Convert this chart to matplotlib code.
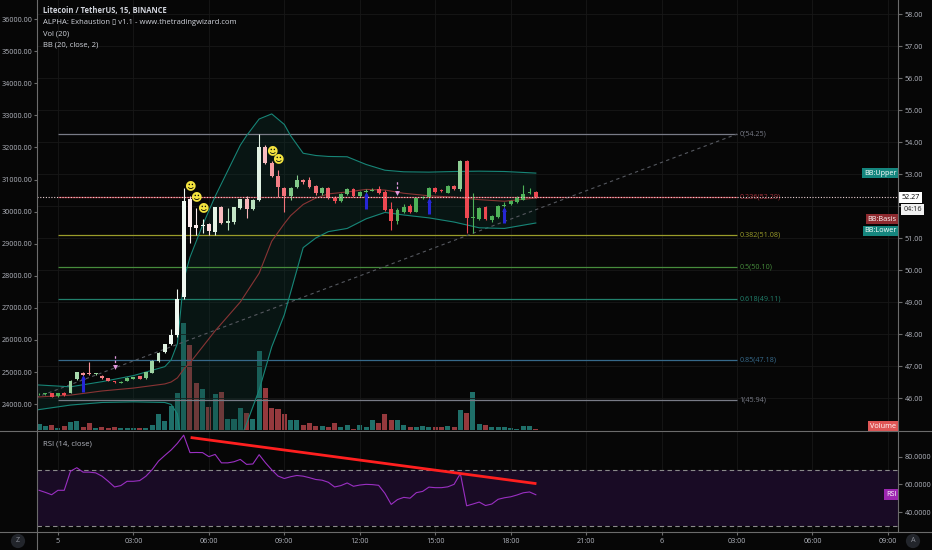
import numpy as np
import matplotlib
matplotlib.use("Agg")
import matplotlib.pyplot as plt
from matplotlib.colors import to_rgb
from matplotlib.lines import Line2D

plt.rcParams['font.family'] = ['Open Sans', 'DejaVu Sans']

# 15 minute bars, index 3 = 00:00 on the 5th
opens = [46.11, 46.12, 46.15, 46.05, 46.17, 46.17, 46.59, 46.77, 46.79, 46.75,
         46.69, 46.61, 46.51, 46.48, 46.54, 46.60, 46.68, 46.61, 46.79, 47.16,
         47.45, 47.68, 47.97, 49.17, 52.21, 51.40, 51.38, 51.44, 51.20, 51.96,
         51.47, 51.50, 51.93, 52.21, 51.90, 52.19, 53.85, 53.35, 52.94, 52.57,
         52.31, 52.60, 52.80, 52.80, 52.62, 52.40, 52.55, 52.26, 52.16, 52.37,
         52.52, 52.31, 52.45, 52.48, 52.52, 52.45, 51.90, 51.53, 51.82, 52.00,
         51.82, 52.26, 52.27, 52.55, 52.49, 52.42, 52.62, 52.52, 53.42, 51.62,
         51.60, 51.97, 51.56, 51.67, 52.00, 52.06, 52.12, 52.20, 52.40, 52.44]
highs = [46.16, 46.16, 46.17, 46.17, 46.20, 46.56, 46.82, 46.82, 47.13, 46.79,
         46.72, 46.63, 46.53, 46.52, 46.65, 46.67, 46.70, 46.82, 47.19, 47.44,
         47.70, 48.15, 49.40, 52.55, 52.30, 51.95, 51.60, 51.46, 51.98, 52.00,
         51.95, 51.98, 52.22, 52.31, 52.22, 54.25, 53.90, 53.40, 53.13, 52.60,
         52.60, 52.97, 52.85, 52.90, 52.65, 52.58, 52.60, 52.30, 52.42, 52.55,
         52.56, 52.48, 52.52, 52.55, 52.62, 52.50, 52.13, 51.95, 52.05, 52.05,
         52.26, 52.32, 52.58, 52.60, 52.52, 52.65, 52.66, 53.45, 53.45, 52.41,
         51.98, 52.00, 51.72, 52.02, 52.12, 52.20, 52.30, 52.66, 52.56, 52.48]
lows = [46.08, 46.09, 46.02, 46.03, 46.07, 46.15, 46.55, 46.70, 46.72, 46.73,
        46.60, 46.52, 46.47, 46.46, 46.52, 46.58, 46.58, 46.59, 46.77, 47.12,
        47.42, 47.65, 47.90, 49.10, 50.84, 51.09, 51.15, 51.10, 51.10, 51.45,
        51.25, 51.45, 51.90, 51.62, 51.88, 52.15, 53.30, 52.90, 52.29, 51.82,
        52.20, 52.55, 52.70, 52.55, 52.35, 52.35, 52.22, 52.10, 52.12, 52.35,
        52.28, 52.28, 52.42, 52.46, 52.38, 51.85, 51.25, 51.45, 51.78, 51.78,
        51.80, 52.22, 52.25, 52.42, 52.44, 52.40, 52.50, 52.48, 51.16, 51.16,
        51.55, 51.55, 51.50, 51.62, 51.96, 52.03, 52.10, 52.18, 52.38, 52.25]
closes = [46.12, 46.12, 46.04, 46.15, 46.09, 46.54, 46.80, 46.73, 46.74, 46.77,
          46.61, 46.54, 46.49, 46.50, 46.63, 46.65, 46.60, 46.80, 47.17, 47.42,
          47.68, 47.97, 49.11, 52.16, 51.35, 51.30, 51.42, 51.22, 51.96, 51.47,
          51.53, 51.96, 52.21, 51.90, 52.20, 53.83, 53.33, 52.94, 52.60, 52.31,
          52.57, 52.81, 52.76, 52.60, 52.40, 52.55, 52.26, 52.15, 52.38, 52.53,
          52.31, 52.45, 52.48, 52.51, 52.40, 51.87, 51.53, 51.87, 51.98, 51.82,
          52.24, 52.29, 52.55, 52.45, 52.47, 52.62, 52.52, 53.42, 51.64, 51.67,
          51.95, 51.60, 51.70, 52.00, 52.04, 52.17, 52.26, 52.37, 52.44, 52.27]
volume = [5.7, 4, 5.3, 2, 4, 8.3, 9, 3.3, 6.7, 2,
          2.7, 1.7, 2.7, 2, 1.7, 1.7, 2, 1.7, 5.3, 15.7,
          9, 24, 37.3, 107.3, 85, 46.7, 41, 23, 36.5, 38.2,
          11, 11, 22, 17, 10.7, 78.7, 42, 22, 21, 16.5,
          9.7, 9.7, 5, 6.7, 4, 4.3, 2.7, 6.7, 3.3, 5,
          1, 5, 3.3, 10, 7.3, 16, 10, 10, 5, 3.3,
          3.3, 4, 2.7, 3.3, 2.7, 4, 3.3, 20, 17.3, 37.7,
          5.7, 5, 2.7, 3.3, 2.7, 2.3, 1.3, 4.3, 4, 1]
rsi = [55.7, 54.2, 52.5, 55.7, 55.7, 69.5, 72.0, 68.8, 68.8, 68.3,
       65.9, 62.2, 58.1, 59.1, 62.2, 62.2, 62.7, 65.9, 70.7, 76.8,
       80.9, 84.8, 89.6, 95.5, 82.9, 83.0, 82.9, 80.0, 81.6, 75.5,
       75.5, 76.3, 78.0, 74.4, 74.7, 81.4, 75.6, 70.5, 66.0, 64.2,
       65.5, 66.4, 65.9, 64.8, 63.5, 63.0, 61.5, 58.1, 59.1, 61.0,
       58.6, 59.5, 60.0, 59.8, 59.3, 53.5, 45.5, 49.0, 50.6, 50.0,
       54.0, 54.9, 58.0, 57.6, 57.6, 58.2, 60.0, 67.8, 44.5, 45.8,
       47.2, 44.7, 45.8, 49.2, 50.3, 51.0, 52.3, 53.9, 54.5, 52.5]

# bollinger bands (20, close, 2)
bb_idx = [-0.3, 5, 10, 15, 20, 21, 22, 23, 24, 26, 28, 30, 32, 33, 35,
          37, 39, 40, 42, 44, 46, 49, 52, 55, 58, 62, 66, 70, 74, 79]
bb_upper = [46.41, 46.35, 46.51, 46.70, 46.98, 47.19, 47.70, 49.69, 50.40, 51.40,
            52.30, 53.10, 53.90, 54.20, 54.72, 54.88, 54.55, 54.20, 53.65, 53.58,
            53.55, 53.54, 53.30, 53.12, 53.07, 53.06, 53.08, 53.09, 53.08, 53.03]
bb_basis = [46.03, 46.09, 46.22, 46.31, 46.44, 46.50, 46.63, 46.90, 47.10, 47.60,
            48.10, 48.55, 49.00, 49.30, 49.90, 50.90, 51.45, 51.70, 52.05, 52.25,
            52.38, 52.44, 52.52, 52.50, 52.40, 52.32, 52.28, 52.20, 52.15, 52.25]
bb_lower = [45.63, 45.78, 45.86, 45.88, 45.86, 45.80, 45.50, 44.10, 43.80, 43.80,
            43.90, 44.00, 44.70, 45.20, 46.25, 47.60, 48.60, 49.30, 50.70, 51.00,
            51.20, 51.30, 51.60, 51.80, 51.72, 51.63, 51.50, 51.32, 51.30, 51.47]

fib_ratios = ['0', '0.236', '0.382', '0.5', '0.618', '0.85', '1']
fib_prices = [54.25, 52.29, 51.08, 50.10, 49.11, 47.18, 45.94]
fib_start, fib_end = 3, 111
fib_trend_start = (-1.5, 45.94)

time_ticks = [3, 15, 27, 39, 51, 63, 75, 87, 99, 111, 123, 135]
time_labels = ['5', '03:00', '06:00', '09:00', '12:00', '15:00', '18:00',
               '21:00', '6', '03:00', '06:00', '09:00']
price_ticks = list(range(46, 59))
left_ticks = list(range(24000, 36001, 1000))
rsi_ticks = [40, 60, 80]

smiley_idx = [24, 25, 26, 37, 38]
up_arrow_idx = [7, 52, 62, 74]
down_arrow_idx = [12, 57]

rsi_trend_x = [24.1, 79.1]
rsi_trend_y = [93.8, 60.5]
last_price = 52.27
countdown = '04:16'

BG = '#060606'
GRID = '#171717'
AXC = '#6b6b6b'
TXT = '#b2b5be'
FS = 5.2
W, H = 932, 550


def px_box(x0, y0, x1, y1):
    return [x0 / W, 1 - y1 / H, (x1 - x0) / W, (y1 - y0) / H]


fig = plt.figure(figsize=(9.32, 5.5), dpi=100, facecolor=BG)
vax = fig.add_axes(px_box(37, 0, 898, 430))
ax = fig.add_axes(px_box(37, 0, 898, 430), sharex=vax)
rax = fig.add_axes(px_box(37, 431, 898, 532), sharex=vax)
vax.set_facecolor(BG)
ax.patch.set_visible(False)
rax.set_facecolor(BG)

idx = np.arange(len(closes))
o, h, l, c = (np.array(a) for a in (opens, highs, lows, closes))
up = c >= o

vax.set_xlim(-0.33, 136.6)
vax.set_ylim(0, 430)
vax.bar(idx, volume, width=0.8, color=np.where(up, '#1f6f69', '#95393d'), lw=0)
vax.set_yticks([])

ax.set_ylim(45.0, 58.44)
for t in time_ticks:
    ax.axvline(t, color=GRID, lw=0.6, zorder=0)
for p in price_ticks:
    ax.axhline(p, color=GRID, lw=0.6, zorder=0)

# bollinger
ax.fill_between(bb_idx, bb_lower, bb_upper, color='#0e3b33', alpha=0.3, lw=0, zorder=1)
ax.plot(bb_idx, bb_upper, color='#178577', lw=0.8, zorder=3)
ax.plot(bb_idx, bb_lower, color='#178577', lw=0.8, zorder=3)
ax.plot(bb_idx, bb_basis, color='#883434', lw=0.8, zorder=3)

# fib retracement
fib_colors = ['#787b86', '#a8303a', '#9a9c2a', '#468c3c', '#21806c', '#36698a', '#787b86']
for r, p, col in zip(fib_ratios, fib_prices, fib_colors):
    ax.hlines(p, fib_start, fib_end, color=col, lw=0.9, zorder=2)
    ax.text(fib_end + 0.4, p, f'{r}({p:.2f})', color=col, fontsize=FS,
            va='center', ha='left', zorder=2)
ax.plot([fib_trend_start[0], fib_end], [fib_trend_start[1], fib_prices[0]],
        color='#55585f', lw=0.8, ls=(0, (3, 3)), zorder=2)

# candles, paler when rsi is stretched
fade = np.clip((np.array(rsi) - 56) / 30, 0.05, 0.92)


def blend(base, f):
    return tuple(np.array(to_rgb(base)) * (1 - f) + f)


colors = [blend('#45ad4f' if u else '#ec3e48', f) for u, f in zip(up, fade)]
ax.vlines(idx, l, h, colors=colors, lw=0.8, zorder=4)
ax.bar(idx, np.maximum(np.abs(c - o), 0.03), bottom=np.minimum(o, c), width=0.62,
       color=colors, lw=0, zorder=5)

ax.axhline(last_price, color='#ead0d4', lw=0.8, ls=(0, (1, 1.5)), zorder=6)

for i in smiley_idx:
    ax.text(i, highs[i] + 0.33, '\u263b', color='#f3e33f', fontsize=8,
            family='DejaVu Sans', ha='center', va='center', zorder=7)
for i in up_arrow_idx:
    top = lows[i] - 0.05
    ax.vlines(i, top - 0.45, top, color='#2626d6', lw=2.2, zorder=6)
    ax.plot(i, top, marker='^', ms=3.5, color='#2626d6', mew=0, zorder=6)
for i in down_arrow_idx:
    bot = highs[i] + 0.45
    ax.vlines(i, bot, bot + 0.4, color='#e39ae0', lw=0.9, ls=(0, (2, 1.5)), zorder=6)
    ax.plot(i, bot, marker='v', ms=3.5, color='#e39ae0', mew=0, zorder=6)

# 52.00 sits under the countdown box
ax.yaxis.tick_right()
ax.set_yticks(price_ticks)
ax.set_yticklabels(['' if p == 52 else f'{p:.2f}' for p in price_ticks])
ax.tick_params(axis='y', colors=AXC, labelcolor=TXT, labelsize=FS, length=3, pad=2)
ax.tick_params(axis='x', bottom=False, labelbottom=False)
vax.tick_params(axis='x', bottom=False, labelbottom=False)

sec = ax.secondary_yaxis('left', functions=(lambda v: 24000 + (v - 45.81) * 997.5,
                                            lambda L: 45.81 + (L - 24000) / 997.5))
sec.set_yticks(left_ticks)
sec.set_yticklabels([f'{t:.2f}' for t in left_ticks])
sec.tick_params(colors=AXC, labelcolor=TXT, labelsize=FS, length=2, pad=1)

# labels on the right
box = dict(boxstyle='square,pad=0.25', lw=0)
ax.text(136.4, bb_upper[-1], 'BB:Upper', color='white', fontsize=FS, ha='right', va='center',
        bbox=dict(box, fc='#15867e'), zorder=8)
ax.text(136.4, 51.59, 'BB:Basis', color='white', fontsize=FS, ha='right', va='center',
        bbox=dict(box, fc='#8e2a2f'), zorder=8)
ax.text(136.4, 51.22, 'BB:Lower', color='white', fontsize=FS, ha='right', va='center',
        bbox=dict(box, fc='#15867e'), zorder=8)
ax.text(1.004, last_price, f'{last_price:.2f}', transform=ax.get_yaxis_transform(),
        color='black', fontsize=FS, ha='left', va='center', clip_on=False,
        bbox=dict(boxstyle='square,pad=0.3', fc='white', lw=0), zorder=9)
ax.text(1.006, last_price - 0.38, countdown, transform=ax.get_yaxis_transform(),
        color='#222222', fontsize=FS, ha='left', va='center', clip_on=False,
        bbox=dict(boxstyle='square,pad=0.3', fc='#f0f0f0', lw=0), zorder=9)
ax.text(0.998, 0.0, 'Volume', transform=ax.transAxes, color='white', fontsize=FS,
        ha='right', va='bottom', bbox=dict(box, fc='#df5656'), zorder=8)

# RSI panel
rax.set_ylim(25.6, 98.5)
for t in time_ticks:
    rax.axvline(t, color=GRID, lw=0.6, zorder=0)
rax.axhspan(30, 70, color='#190b25', lw=0, zorder=0)
rax.axhline(70, color='#8a8a8a', lw=0.8, ls=(0, (4, 3)))
rax.axhline(30, color='#8a8a8a', lw=0.8, ls=(0, (4, 3)))
rax.plot(idx, rsi, color='#9a2fc2', lw=0.8, zorder=3)
rax.plot(rsi_trend_x, rsi_trend_y, color='#ff1f1f', lw=2, zorder=4, solid_capstyle='butt')
rax.yaxis.tick_right()
rax.set_yticks(rsi_ticks)
rax.set_yticklabels([f'{v:.4f}' for v in rsi_ticks])
rax.tick_params(axis='y', colors=AXC, labelcolor=TXT, labelsize=FS, length=3, pad=2)
rax.set_xticks(time_ticks)
rax.set_xticklabels(time_labels)
rax.tick_params(axis='x', colors=AXC, labelcolor=TXT, labelsize=FS, length=2, pad=2)
rax.text(0.007, 0.87, 'RSI (14, close)', transform=rax.transAxes, color=TXT,
         fontsize=FS + 0.4, ha='left', va='center')
rax.text(136.4, rsi[-1], 'RSI', color='white', fontsize=FS, ha='right', va='center',
         bbox=dict(box, fc='#9c27b0'), zorder=8)

for a in (vax, ax, rax):
    for s in a.spines.values():
        s.set_visible(False)
sec.spines['left'].set_visible(False)

# frame lines
fig.add_artist(Line2D([37 / W, 37 / W], [0, 1], color=AXC, lw=0.8))
fig.add_artist(Line2D([898 / W, 898 / W], [1 - 532 / H, 1], color=AXC, lw=0.8))
fig.add_artist(Line2D([0, 1], [1 - 430.5 / H] * 2, color=AXC, lw=0.8))
fig.add_artist(Line2D([0, 1], [1 - 532 / H] * 2, color=AXC, lw=0.8))

# header
head = ['Litecoin / TetherUS, 15, BINANCE',
        'ALPHA: Exhaustion \u25af v1.1 - www.thetradingwizard.com',
        'Vol (20)', 'BB (20, close, 2)']
for n, s in enumerate(head):
    fig.text(43 / W, 1 - (11 + 11.3 * n) / H, s, color='#d1d4dc', fontsize=FS + 0.3,
             fontweight='bold' if n == 0 else 'normal', ha='left', va='center')

for x, s in ((18, 'Z'), (913, 'A')):
    fig.text(x / W, 1 - 541 / H, s, color='#8a8d96', fontsize=FS, ha='center', va='center',
             bbox=dict(boxstyle='circle,pad=0.5', fc='#22252b', lw=0))

fig.savefig('out.png', dpi=100, facecolor=BG)
